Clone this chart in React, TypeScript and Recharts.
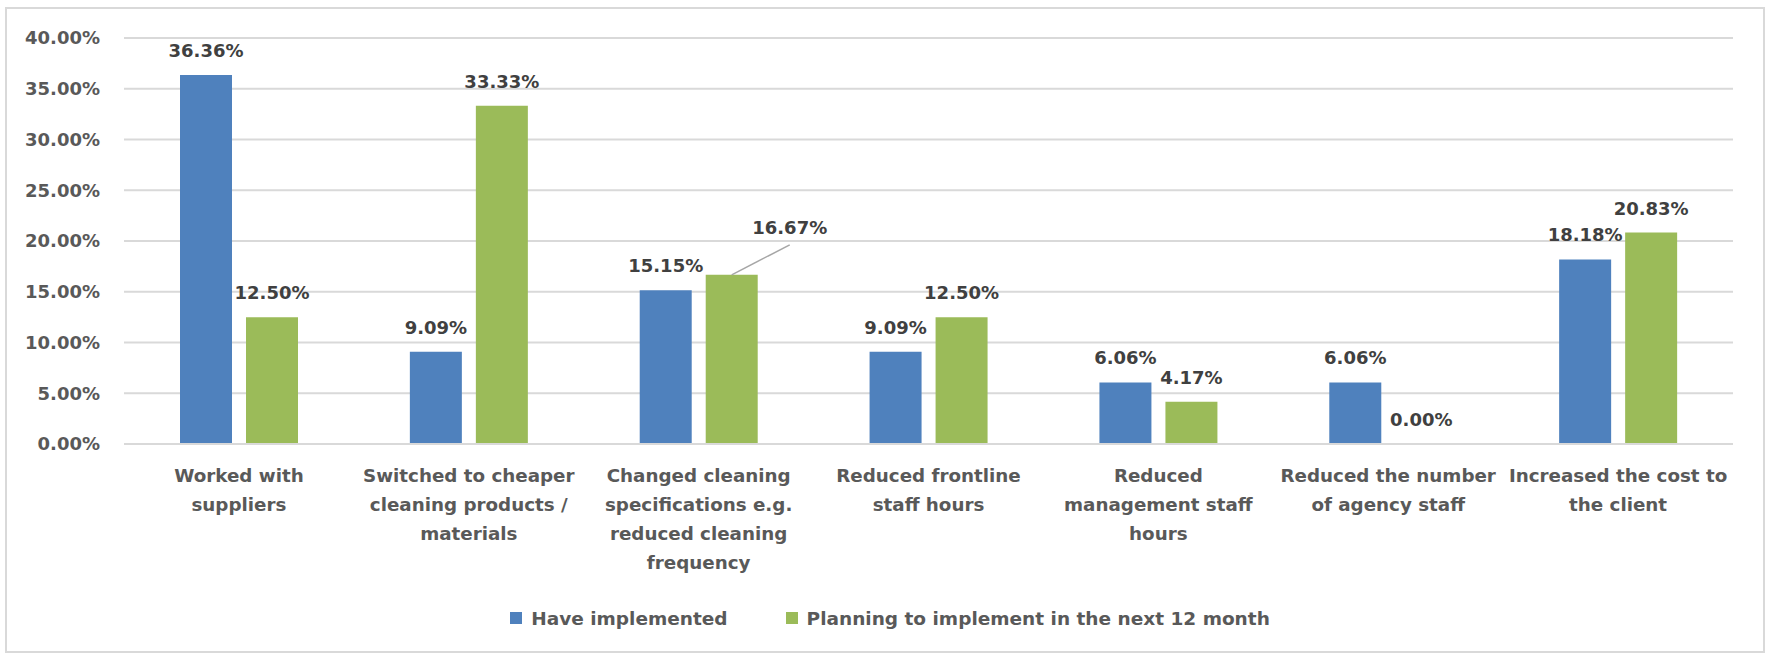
import React from "react";
import { BarChart, Bar, XAxis, YAxis, CartesianGrid, Legend, LabelList } from "recharts";

const categories = [
  "Worked with\nsuppliers",
  "Switched to cheaper\ncleaning products /\nmaterials",
  "Changed cleaning\nspecifications e.g.\nreduced cleaning\nfrequency",
  "Reduced frontline\nstaff hours",
  "Reduced\nmanagement staff\nhours",
  "Reduced the number\nof agency staff",
  "Increased the cost to\nthe client",
];
const haveImplemented = [36.36, 9.09, 15.15, 9.09, 6.06, 6.06, 18.18];
const planning = [12.5, 33.33, 16.67, 12.5, 4.17, 0.0, 20.83];
const yTicks = [0, 5, 10, 15, 20, 25, 30, 35, 40];

const seriesNames = ["Have implemented", "Planning to implement in the next 12 month"];

const data = categories.map((name, i) => ({
  name,
  have: haveImplemented[i],
  plan: planning[i],
}));

const FONT = "'DejaVu Sans', sans-serif";
const BLUE = "#4f81bd";
const GREEN = "#9bbb59";

const pct = (v: number) => `${Number(v).toFixed(2)}%`;

// label of the green bar in "Changed cleaning..." was dragged aside in the original, with a leader line
const movedLabel = { key: "plan", index: 2, dx: 58, dy: -30 };

function makeLabel(key: string) {
  return (props: any) => {
    const { x, y, width, height, index } = props;
    const value = key === "plan" ? planning[index] : haveImplemented[index];
    const cx = x + width / 2;
    const top = height < 0 ? y + height : y;
    if (key === movedLabel.key && index === movedLabel.index) {
      const lx = cx + movedLabel.dx;
      const ly = top + movedLabel.dy;
      return (
        <g>
          <line x1={cx} y1={top} x2={lx} y2={ly} stroke="#a6a6a6" strokeWidth={1.5} />
          <text x={lx} y={ly - 11} textAnchor="middle" fontFamily={FONT} fontWeight="bold" fontSize={18} fill="#404040">
            {pct(value)}
          </text>
        </g>
      );
    }
    return (
      <text x={cx} y={top - 18} textAnchor="middle" fontFamily={FONT} fontWeight="bold" fontSize={18} fill="#404040">
        {pct(value)}
      </text>
    );
  };
}

function CategoryTick(props: any) {
  const { x, y, payload } = props;
  const lines = String(payload.value).split("\n");
  return (
    <text x={x} y={y} textAnchor="middle" fontFamily={FONT} fontWeight="bold" fontSize={18.3} fill="#595959">
      {lines.map((line, i) => (
        <tspan key={i} x={x} y={y + 38 + i * 29}>
          {line}
        </tspan>
      ))}
    </text>
  );
}

function LegendContent() {
  const colors = [BLUE, GREEN];
  return (
    <div style={{ display: "flex", justifyContent: "center", alignItems: "center", height: 40, paddingLeft: 10 }}>
      {seriesNames.map((name, i) => (
        <div key={name} style={{ display: "flex", alignItems: "center", marginRight: i === 0 ? 58 : 0 }}>
          <div style={{ width: 12, height: 12, background: colors[i], marginRight: 9 }} />
          <span style={{ fontFamily: FONT, fontWeight: "bold", fontSize: 18.5, color: "#595959" }}>{name}</span>
        </div>
      ))}
    </div>
  );
}

export default function App() {
  return (
    <div
      style={{
        position: "fixed",
        left: 5,
        top: 7,
        width: 1760,
        height: 646,
        boxSizing: "border-box",
        border: "2px solid #d9d9d9",
        background: "#fff",
      }}
    >
      <BarChart
        width={1756}
        height={642}
        data={data}
        margin={{ top: 29, right: 30, left: 0, bottom: 0 }}
        barSize={52}
        barGap={14}
      >
        <CartesianGrid vertical={false} stroke="#d9d9d9" strokeWidth={2} />
        <XAxis
          dataKey="name"
          height={167}
          interval={0}
          tickLine={false}
          tickSize={0}
          tickMargin={0}
          axisLine={{ stroke: "#d9d9d9", strokeWidth: 2 }}
          tick={<CategoryTick />}
        />
        <YAxis
          width={117}
          domain={[0, 40]}
          ticks={yTicks}
          tickFormatter={pct}
          axisLine={false}
          tickLine={false}
          tickSize={0}
          tickMargin={24}
          tick={{ fontFamily: FONT, fontWeight: "bold", fontSize: 18, fill: "#595959" }}
        />
        <Legend
          verticalAlign="bottom"
          content={<LegendContent />}
          wrapperStyle={{ position: "absolute", left: 0, top: 589, width: 1756, height: 40 }}
        />
        <Bar dataKey="have" name={seriesNames[0]} fill={BLUE} isAnimationActive={false} minPointSize={0.01}>
          <LabelList dataKey="have" content={makeLabel("have")} />
        </Bar>
        <Bar dataKey="plan" name={seriesNames[1]} fill={GREEN} isAnimationActive={false} minPointSize={0.01}>
          <LabelList dataKey="plan" content={makeLabel("plan")} />
        </Bar>
      </BarChart>
    </div>
  );
}
